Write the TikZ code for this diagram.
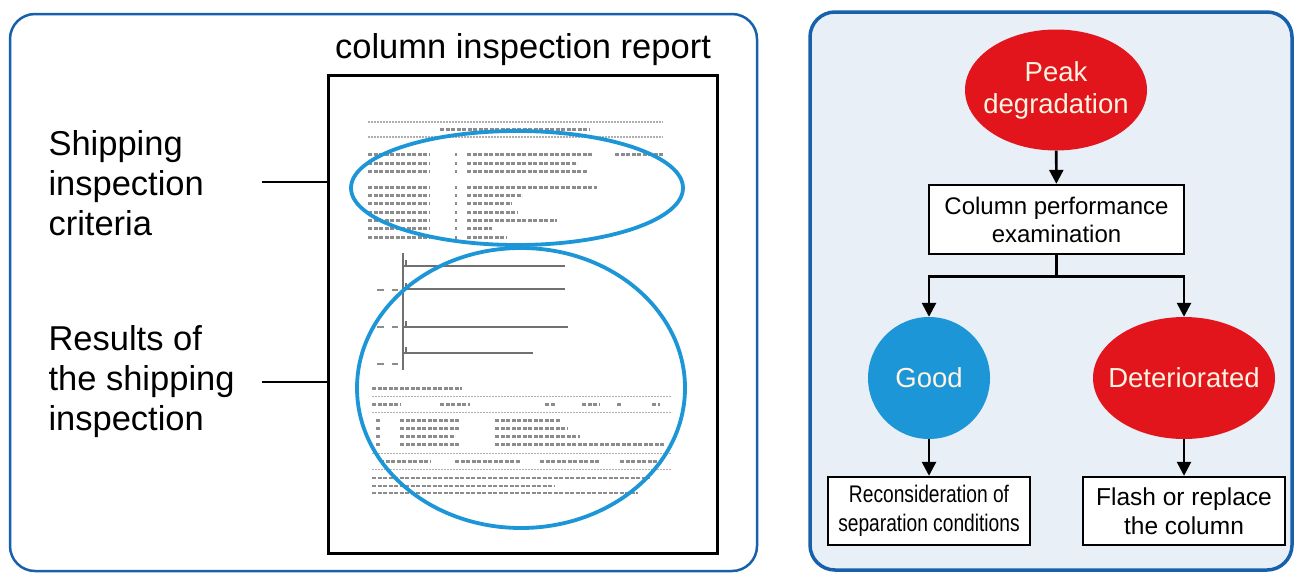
\documentclass[tikz,border=0pt]{standalone}
\usepackage{fontspec}
\setmainfont{Liberation Sans}
\newfontfamily\narrowfont{Liberation Sans}[FakeStretch=0.8]
\usetikzlibrary{shapes.geometric,arrows.meta,positioning}

\definecolor{panelblue}{RGB}{22,96,172}
\definecolor{ringblue}{RGB}{28,150,214}
\definecolor{peakred}{RGB}{226,20,28}
\definecolor{panelfill}{RGB}{233,239,247}
\definecolor{cream}{RGB}{255,243,226}
\definecolor{scan}{RGB}{140,140,140}

\tikzset{
  panel/.style={rounded corners=25pt, line width=2.5pt, draw=panelblue},
  ring/.style={draw=ringblue, line width=3.8pt},
  sidelabel/.style={anchor=west, align=left, font=\fontsize{34.5}{40}\selectfont},
  flowbox/.style={draw, line width=2.4pt, fill=white, align=center, inner sep=0pt,
    font=\fontsize{24}{28}\selectfont},
  blob/.style={ellipse, inner xsep=-16pt, inner ysep=0pt, align=center, text=cream,
    font=\fontsize{27.5}{32}\selectfont},
  flowline/.style={line width=2.6pt},
  flowarrow/.style={line width=2.6pt, -{Triangle[length=14pt,width=14pt]}},
  scanline/.style={draw=scan, line width=3pt, dash pattern=on 4pt off 1.5pt},
  scanrule/.style={draw=scan!70, line width=1pt, dash pattern=on 2pt off 1pt},
}

\begin{document}
\begin{tikzpicture}[x=1pt, y=-1pt]
  \useasboundingbox (0,0) rectangle (1295,573);

  % panels
  \draw[panel, fill=white] (10,14) rectangle (757,571);
  \draw[panel, fill=panelfill, line width=3.5pt] (810,12) rectangle (1292,570);

  % left side: the report sheet
  \node[font=\fontsize{34.5}{40}\selectfont] (title) at (523,50) {column inspection report};
  \node[draw, line width=3pt, minimum width=389pt, minimum height=478pt, inner sep=0pt] (report) at (522.5,314) {};

  % header of the scanned sheet
  \draw[scanrule, line width=1.6pt] (368,122) -- (663,122);
  \draw[scanrule, line width=1.6pt] (368,137) -- (663,137);
  \draw[scanline] (440,129) -- (590,129);
  \foreach \y/\w in {154/125, 163/110, 171/120}
    \draw[scanline] (368,\y) -- (430,\y) (455,\y) -- (457,\y) (467,\y) -- (467+\w,\y);
  \draw[scanline] (615,154) -- (663,154);
  \foreach \y/\w in {187/130, 195/55, 203/45, 212/50, 220/90, 228/25, 237/40}
    \draw[scanline] (368,\y) -- (430,\y) (455,\y) -- (457,\y) (467,\y) -- (467+\w,\y);

  % chromatogram
  \draw[scan!80!black, line width=1.6pt] (403,253) -- (403,370);
  \foreach \y/\e in {266/565, 289/565, 327/568, 353/533} {
    \draw[scan!80!black, line width=1.6pt] (403,\y) -- (\e,\y);
    \draw[scan!80!black, line width=1.2pt] (406,\y) -- (406,\y-6);
  }
  \foreach \y in {290, 327, 364}
    \draw[scan, line width=1.4pt] (377,\y) -- (384,\y) (392,\y) -- (398,\y);

  % result table
  \draw[scanline] (372,388) -- (462,388);
  \draw[scanrule] (372,396) -- (672,396);
  \draw[scanline] (372,404) -- (400,404) (440,404) -- (470,404) (545,404) -- (555,404)
    (582,404) -- (600,404) (617,404) -- (622,404) (652,404) -- (660,404);
  \draw[scanrule] (372,412) -- (672,412);
  \foreach \y/\a/\b in {420/460/560, 428/460/568, 436/455/580, 444/460/665}
    \draw[scanline] (376,\y) -- (381,\y) (400,\y) -- (\a,\y) (495,\y) -- (\b,\y);
  \draw[scanrule] (372,453) -- (672,453);
  \draw[scanline] (380,461) -- (430,461) (455,461) -- (520,461) (540,461) -- (600,461) (620,461) -- (660,461);
  \draw[scanrule] (372,469) -- (672,469);
  \foreach \y/\e in {478/650, 486/555, 493/638}
    \draw[scanline, line width=2.2pt] (372,\y) -- (\e,\y);

  % blue rings
  \draw[ring] (517,188) ellipse (166 and 57);
  \draw[ring] (521,388) ellipse (164 and 140);

  % labels on the left
  \node[sidelabel] (criteria) at (45,183) {Shipping\\inspection\\criteria};
  \node[sidelabel] (results) at (45,382) {Results of\\the shipping\\inspection};
  \coordinate (critend) at (262,182);
  \coordinate (resend) at (262,382);
  \draw[line width=2.8pt] (critend) -- (critend -| report.west);
  \draw[line width=2.8pt] (resend) -- (resend -| report.west);

  % right side: flow chart
  \node[blob, fill=peakred, minimum width=182pt, minimum height=121pt] (peak) at (1056,90) {Peak\\degradation};
  \node[flowbox, minimum width=255pt, minimum height=69pt] (exam) at (1056.5,219.5) {Column performance\\examination};
  \node[blob, circle, inner xsep=0pt, fill=ringblue, minimum size=122pt] (good) at (929,378) {Good};
  \node[blob, fill=peakred, minimum width=182pt, minimum height=122pt] (bad) at (1184,378) {Deteriorated};
  \node[flowbox, minimum width=202pt, minimum height=68pt, font=\narrowfont\fontsize{24}{29}\selectfont] (recon) at (929,511) {Reconsideration of\\separation conditions};
  \node[flowbox, minimum width=202pt, minimum height=68pt, font=\fontsize{24.5}{29}\selectfont] (flash) at (1184,511) {Flash or replace\\the column};

  \draw[flowarrow] (peak) -- (exam);
  \draw[flowline] (exam.south) -- ++(0,21) coordinate (split);
  \draw[flowarrow] (split) -| (good.north);
  \draw[flowarrow] (split) -| (bad.north);
  \draw[flowarrow] (good) -- (recon);
  \draw[flowarrow] (bad) -- (flash);
\end{tikzpicture}
\end{document}
